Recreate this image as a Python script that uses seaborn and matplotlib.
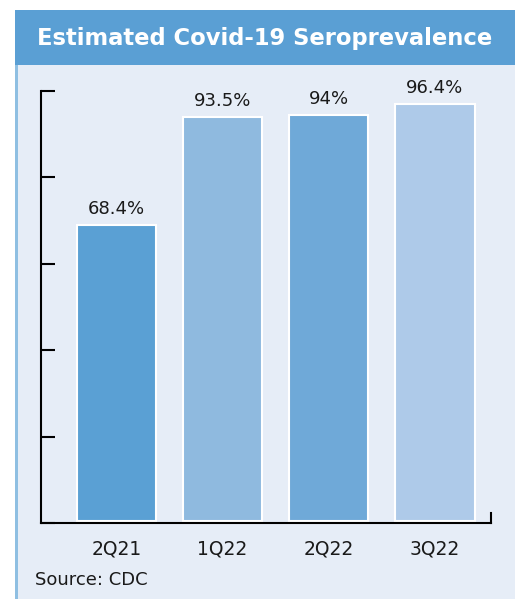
import matplotlib
matplotlib.use("Agg")
import matplotlib.pyplot as plt
import seaborn as sns
import pandas as pd
from matplotlib.patches import Rectangle

categories = ["2Q21", "1Q22", "2Q22", "3Q22"]
values = [68.4, 93.5, 94.0, 96.4]
labels = ["68.4%", "93.5%", "94%", "96.4%"]
bar_colors = ["#5aa0d4", "#8fbadf", "#6fa9d8", "#aecae9"]
title = "Estimated Covid-19 Seroprevalence"
source = "Source: CDC"

sns.set_theme(style="white")
plt.rcParams["font.family"] = ["DejaVu Sans"]

W, H = 515, 599
fig = plt.figure(figsize=(W / 100, H / 100), dpi=100)
fig.patch.set_facecolor("white")

# panel background
fig.patches.append(Rectangle((15 / W, 0), 1 - 15 / W, (H - 10) / H,
                             transform=fig.transFigure, facecolor="#e6edf7",
                             edgecolor="none", zorder=0))
# left border line
fig.patches.append(Rectangle((15 / W, 0), 2.5 / W, (H - 10) / H,
                             transform=fig.transFigure, facecolor="#8fbfe2",
                             edgecolor="none", zorder=1))
# header band
fig.patches.append(Rectangle((15 / W, (H - 65) / H), 1 - 15 / W, 55 / H,
                             transform=fig.transFigure, facecolor="#5a9fd4",
                             edgecolor="none", zorder=2))
fig.text(265 / W, (H - 39) / H, title, color="white",
         fontsize=16.3, fontweight="bold", ha="center", va="center", zorder=3)
fig.text(35 / W, (H - 580) / H, source, color="#1a1a1a", fontsize=13,
         ha="left", va="center", zorder=3)

ax = fig.add_axes([41 / W, (H - 523) / H, (491 - 41) / W, (523 - 91) / H])
ax.set_zorder(5)
ax.set_facecolor("none")

df = pd.DataFrame({"cat": categories, "val": values})
sns.barplot(data=df, x="cat", y="val", hue="cat", palette=bar_colors,
            legend=False, width=0.75, edgecolor="white", linewidth=1.5,
            saturation=1, ax=ax, zorder=2)

for i, (v, lab) in enumerate(zip(values, labels)):
    ax.text(i, v + 1.6, lab, ha="center", va="bottom", fontsize=13,
            color="#1a1a1a")

y0 = -0.55
ax.set_xlim(-0.71, 3.53)
ax.set_ylim(y0, y0 + 100)
ax.set_yticks([y0 + 20 * k for k in range(6)])
ax.set_yticklabels([])
ax.tick_params(axis="y", direction="in", length=10, width=1.5, colors="black", left=True)
ax.tick_params(axis="x", length=0, labelsize=13.5, pad=12, labelcolor="#1a1a1a")
ax.set_xlabel("")
ax.set_ylabel("")
ax.spines["top"].set_visible(False)
for s in ["left", "bottom", "right"]:
    ax.spines[s].set_color("black")
    ax.spines[s].set_linewidth(1.5)
ax.spines["right"].set_bounds(y0, y0 + 2.3)

fig.savefig("out.png", dpi=100, facecolor=fig.get_facecolor())
